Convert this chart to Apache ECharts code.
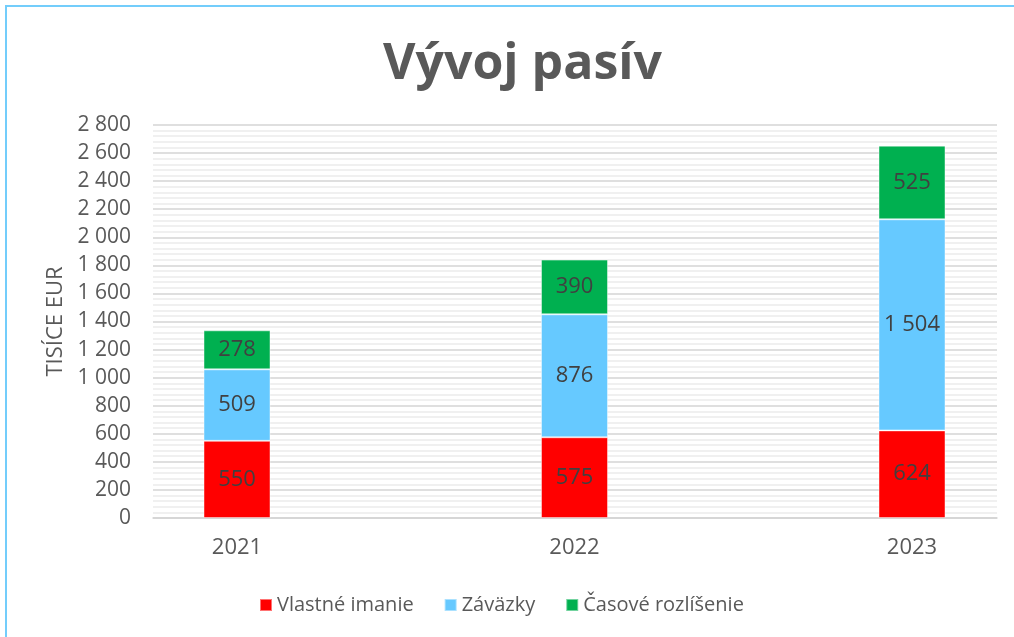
<!DOCTYPE html>
<html>
<head>
<meta charset="utf-8">
<script src="https://cdn.jsdelivr.net/npm/echarts@6/dist/echarts.min.js"></script>
<style>
  html, body { margin: 0; padding: 0; background: #fff; }
  #chart { width: 1014px; height: 637px; }
</style>
</head>
<body>
<div id="chart"></div>
<script>
var years = ['2021', '2022', '2023'];
var vlastneImanie = [550, 575, 624];
var zavazky = [509, 876, 1504];
var casoveRozlisenie = [278, 390, 525];
var seriesNames = ['Vlastné imanie', 'Záväzky', 'Časové rozlíšenie'];

var FONT = '"Open Sans", sans-serif';
var GRAY = '#595959';

// tisíce oddelené medzerou
function fmt(v) {
    return String(v).replace(/\B(?=(\d{3})+(?!\d))/g, ' ');
}

function barSeries(name, data, color) {
    return {
        name: name,
        type: 'bar',
        stack: 'total',
        xAxisIndex: 1,
        yAxisIndex: 1,
        barWidth: 67,
        itemStyle: { color: color, borderColor: 'rgba(255,255,255,0.45)', borderWidth: 1 },
        label: {
            show: true,
            position: 'inside',
            color: '#404040',
            fontSize: 22,
            fontFamily: FONT,
            formatter: function (p) { return fmt(p.value); }
        },
        data: data
    };
}

var chart = echarts.init(document.getElementById('chart'));
chart.setOption({
    animation: false,
    title: {
        text: 'Vývoj pasív',
        left: 378,
        top: 35,
        textStyle: { fontSize: 50, fontWeight: 'bold', color: GRAY, fontFamily: FONT }
    },
    legend: {
        top: 590,
        left: 254,
        icon: 'rect',
        itemWidth: 12,
        itemHeight: 12,
        itemGap: 30,
        textStyle: { fontSize: 20, color: GRAY, fontFamily: FONT },
        data: seriesNames
    },
    grid: [
        { left: 153, right: 17, top: 125, bottom: 119 },
        // druhá mriežka len pre stĺpce: krajné kategórie ležia na jej okrajoch
        { left: 237, right: 102, top: 125, bottom: 119 }
    ],
    xAxis: [
        {
            type: 'category',
            gridIndex: 0,
            data: years,
            axisLine: { lineStyle: { color: '#d4d4d4', width: 1.5 } },
            axisTick: { show: false },
            axisLabel: { show: false }
        },
        {
            type: 'category',
            gridIndex: 1,
            data: years,
            boundaryGap: false,
            axisLine: { show: false },
            axisTick: { show: false },
            splitLine: { show: false },
            axisLabel: { margin: 19, fontSize: 22, color: GRAY, fontFamily: FONT }
        }
    ],
    yAxis: [
        {
            type: 'value',
            gridIndex: 0,
            min: 0,
            max: 2800,
            interval: 200,
            name: 'TISÍCE EUR',
            nameLocation: 'middle',
            nameGap: 86,
            nameTextStyle: { fontSize: 22, color: GRAY, fontFamily: FONT },
            axisLine: { show: false },
            axisTick: { show: false },
            axisLabel: { margin: 22, fontSize: 21, color: GRAY, fontFamily: FONT, formatter: fmt },
            splitLine: { lineStyle: { color: '#d4d4d4', width: 1.5 } },
            minorTick: { show: false, splitNumber: 5 },
            minorSplitLine: { show: true, lineStyle: { color: '#ececec', width: 1.5 } }
        },
        {
            type: 'value',
            gridIndex: 1,
            min: 0,
            max: 2800,
            show: false,
            splitLine: { show: false }
        }
    ],
    graphic: [
        { type: 'rect', shape: { x: 6, y: 6, width: 1020, height: 640 }, style: { fill: 'none', stroke: '#73cdfb', lineWidth: 2 }, silent: true }
    ],
    series: [
        barSeries(seriesNames[0], vlastneImanie, '#ff0000'),
        barSeries(seriesNames[1], zavazky, '#66c9ff'),
        barSeries(seriesNames[2], casoveRozlisenie, '#00b050')
    ]
});
</script>
</body>
</html>
